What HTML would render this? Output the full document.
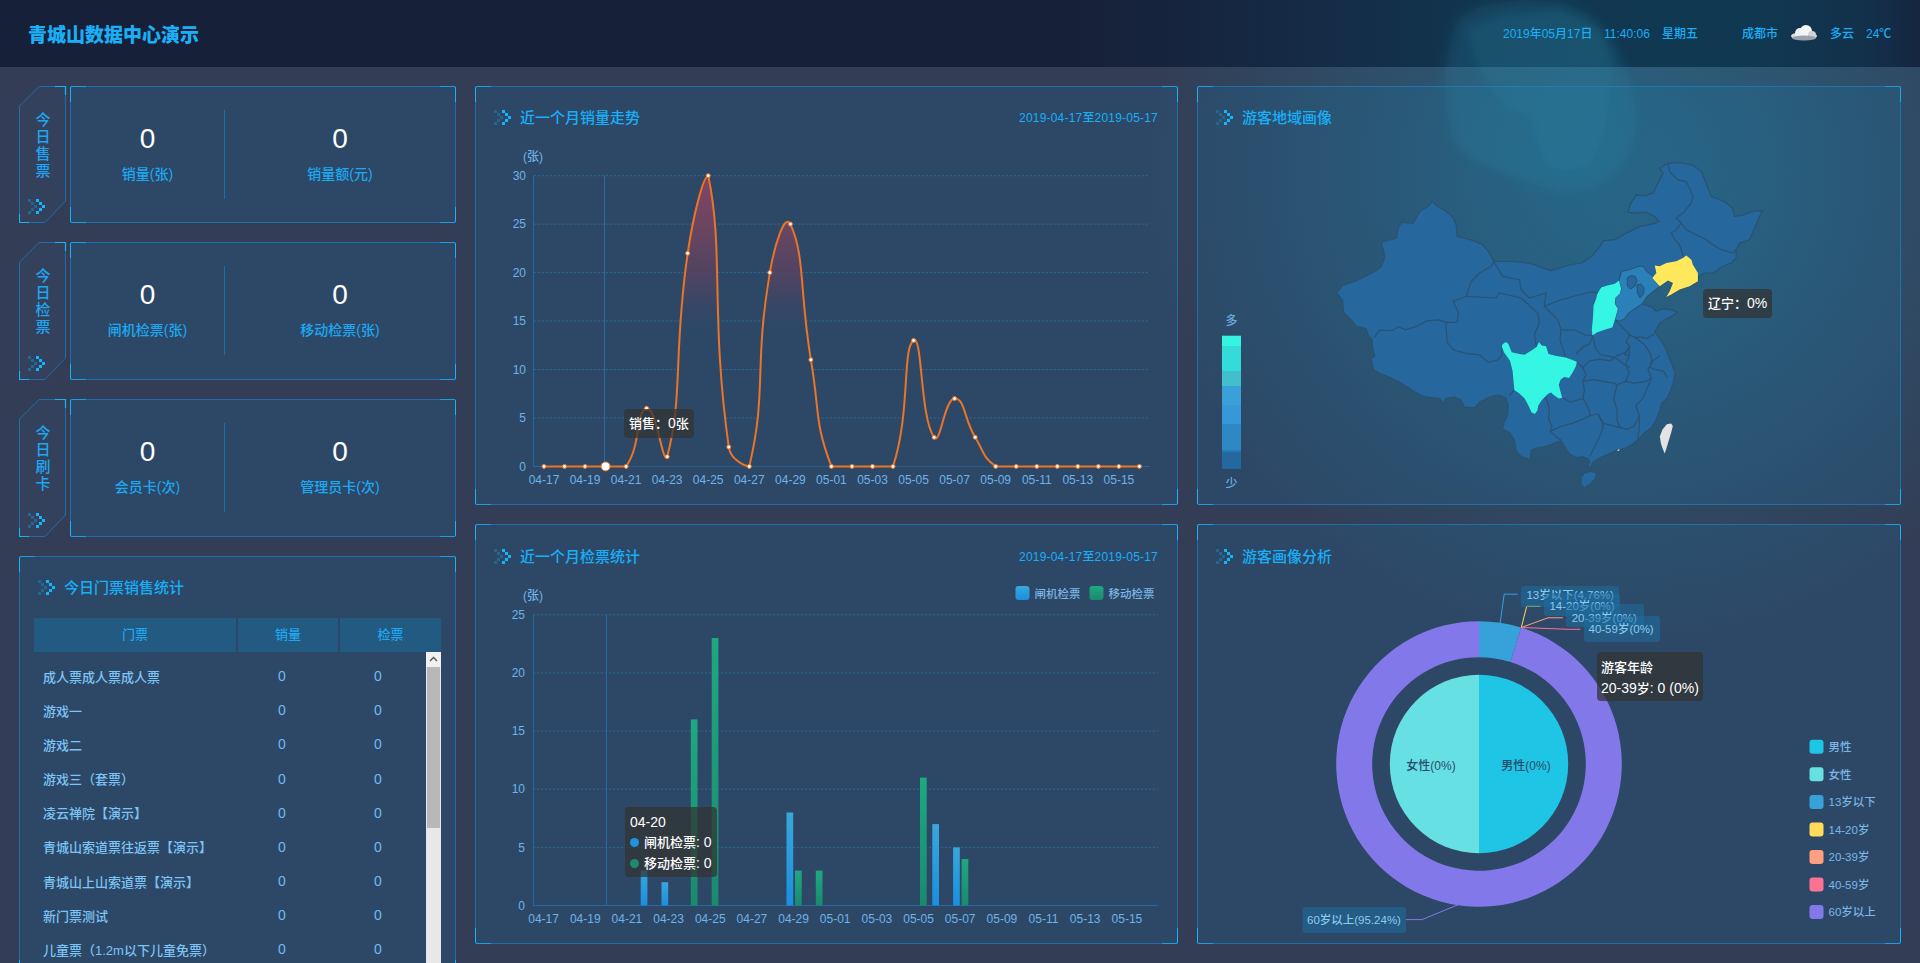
<!DOCTYPE html><html><head><meta charset="utf-8"><title>青城山数据中心演示</title><style>
*{margin:0;padding:0;box-sizing:border-box}
html,body{width:1920px;height:963px;overflow:hidden}
body{background:#333d55;font-family:"Liberation Sans", "Noto Sans CJK SC", sans-serif;position:relative;color:#1ea5ef;font-weight:500}
svg text{font-weight:500}
.abs{position:absolute}
.glow{position:absolute;pointer-events:none}
.hdr{position:absolute;left:0;top:0;width:1920px;height:67px;background:#171f38}
.title{position:absolute;left:28px;top:20px;font-size:19px;font-weight:900;color:#1ab0f8;letter-spacing:0px;white-space:nowrap}
.hinfo{position:absolute;top:27px;font-size:12px;line-height:14px;color:#1aaef6;white-space:nowrap}
.panel{position:absolute;background:rgba(41,84,124,0.55);border:1px solid #1f6eaa;border-radius:2px}
.corner{position:absolute;width:16px;height:16px;border-color:#1a9fe6 #19b2f7 #1a9fe6 #19b2f7;border-style:solid;border-width:0}
.c-tl{left:-1px;top:-1px;border-left-width:1px;border-top-width:1px;border-top-left-radius:2px}
.c-tr{right:-1px;top:-1px;border-right-width:1px;border-top-width:1px;border-top-right-radius:2px}
.c-bl{left:-1px;bottom:-1px;border-left-width:1px;border-bottom-width:1px;border-bottom-left-radius:2px}
.c-br{right:-1px;bottom:-1px;border-right-width:1px;border-bottom-width:1px;border-bottom-right-radius:2px}
.ptitle{position:absolute;font-size:15px;color:#17aff8;white-space:nowrap;line-height:15px}
.num{position:absolute;font-size:28px;color:#fff;line-height:28px;text-align:center;font-family:"Liberation Sans",sans-serif}
.lbl{position:absolute;font-size:14px;color:#1ca8f3;line-height:14px;text-align:center;white-space:nowrap}
.vdiv{position:absolute;width:1px;background:#1f6ea8}
.tag{position:absolute;left:19px;width:47px}
.tagtxt{position:absolute;left:16px;width:16px;font-size:15px;line-height:17px;color:#1fa6f0;text-align:center}
.th{position:absolute;top:618px;height:34px;background:#235a81;font-size:13px;color:#1ea6ef;text-align:center;line-height:34px}
.td{position:absolute;font-size:13px;color:#7cc4f5;white-space:nowrap;line-height:14px}
.tn{position:absolute;font-size:14px;color:#6ebcf3;line-height:14px;font-family:"Liberation Sans",sans-serif}
svg text{font-family:"Liberation Sans", "Noto Sans CJK SC", sans-serif}
.cj{font-size:13px}
.tip{position:absolute;background:rgba(50,50,50,0.72);border-radius:4px;color:#fff;font-size:14px;white-space:nowrap}
</style></head><body><div class="hdr" style="background:linear-gradient(90deg,#172039 0px,#172039 1080px,#152a45 1300px,#12334d 1440px,#113851 1650px,#113851 1760px,#13304a 1870px,#162540 1920px)"></div><svg class="abs" style="left:19px;top:86px" width="48" height="137" viewBox="0 0 48 137"><path d="M0.5,20 L20,0.5 L46.5,0.5 L46.5,115 L26,136.5 L0.5,136.5 Z" fill="#33415c" stroke="#1f6eaa" stroke-width="1"/><path d="M36,0.5 L46.5,0.5 L46.5,9" fill="none" stroke="#19b2f7" stroke-width="1.2"/><path d="M0.5,128 L0.5,136.5 L10,136.5" fill="none" stroke="#19b2f7" stroke-width="1.2"/><rect x="9" y="113" width="3" height="3" fill="#236790"/><rect x="12" y="116" width="3" height="3" fill="#236790"/><rect x="15" y="119" width="3" height="3" fill="#236790"/><rect x="12" y="122" width="3" height="3" fill="#236790"/><rect x="9" y="125" width="3" height="3" fill="#236790"/><rect x="17" y="113" width="3" height="3" fill="#17b4f8"/><rect x="20" y="116" width="3" height="3" fill="#17b4f8"/><rect x="23" y="119" width="3" height="3" fill="#17b4f8"/><rect x="20" y="122" width="3" height="3" fill="#17b4f8"/><rect x="17" y="125" width="3" height="3" fill="#17b4f8"/></svg><div class="tagtxt" style="left:35px;top:110.5px">今<br>日<br>售<br>票</div><div class="panel" style="left:70px;top:86px;width:386px;height:137px;background:#2d4866"><div class="corner c-tl"></div><div class="corner c-tr"></div><div class="corner c-bl"></div><div class="corner c-br"></div></div><div class="vdiv" style="left:224px;top:110px;height:89px"></div><div class="num" style="left:87.5px;width:120px;top:125px">0</div><div class="lbl" style="left:67.5px;width:160px;top:167px">销量(张)</div><div class="num" style="left:280px;width:120px;top:125px">0</div><div class="lbl" style="left:260px;width:160px;top:167px">销量额(元)</div><svg class="abs" style="left:19px;top:242px" width="48" height="138" viewBox="0 0 48 138"><path d="M0.5,20 L20,0.5 L46.5,0.5 L46.5,116 L26,137.5 L0.5,137.5 Z" fill="#33415c" stroke="#1f6eaa" stroke-width="1"/><path d="M36,0.5 L46.5,0.5 L46.5,9" fill="none" stroke="#19b2f7" stroke-width="1.2"/><path d="M0.5,129 L0.5,137.5 L10,137.5" fill="none" stroke="#19b2f7" stroke-width="1.2"/><rect x="9" y="114" width="3" height="3" fill="#236790"/><rect x="12" y="117" width="3" height="3" fill="#236790"/><rect x="15" y="120" width="3" height="3" fill="#236790"/><rect x="12" y="123" width="3" height="3" fill="#236790"/><rect x="9" y="126" width="3" height="3" fill="#236790"/><rect x="17" y="114" width="3" height="3" fill="#17b4f8"/><rect x="20" y="117" width="3" height="3" fill="#17b4f8"/><rect x="23" y="120" width="3" height="3" fill="#17b4f8"/><rect x="20" y="123" width="3" height="3" fill="#17b4f8"/><rect x="17" y="126" width="3" height="3" fill="#17b4f8"/></svg><div class="tagtxt" style="left:35px;top:266.5px">今<br>日<br>检<br>票</div><div class="panel" style="left:70px;top:242px;width:386px;height:138px;background:#2d4866"><div class="corner c-tl"></div><div class="corner c-tr"></div><div class="corner c-bl"></div><div class="corner c-br"></div></div><div class="vdiv" style="left:224px;top:266px;height:89px"></div><div class="num" style="left:87.5px;width:120px;top:281px">0</div><div class="lbl" style="left:67.5px;width:160px;top:323px">闸机检票(张)</div><div class="num" style="left:280px;width:120px;top:281px">0</div><div class="lbl" style="left:260px;width:160px;top:323px">移动检票(张)</div><svg class="abs" style="left:19px;top:399px" width="48" height="138" viewBox="0 0 48 138"><path d="M0.5,20 L20,0.5 L46.5,0.5 L46.5,116 L26,137.5 L0.5,137.5 Z" fill="#33415c" stroke="#1f6eaa" stroke-width="1"/><path d="M36,0.5 L46.5,0.5 L46.5,9" fill="none" stroke="#19b2f7" stroke-width="1.2"/><path d="M0.5,129 L0.5,137.5 L10,137.5" fill="none" stroke="#19b2f7" stroke-width="1.2"/><rect x="9" y="114" width="3" height="3" fill="#236790"/><rect x="12" y="117" width="3" height="3" fill="#236790"/><rect x="15" y="120" width="3" height="3" fill="#236790"/><rect x="12" y="123" width="3" height="3" fill="#236790"/><rect x="9" y="126" width="3" height="3" fill="#236790"/><rect x="17" y="114" width="3" height="3" fill="#17b4f8"/><rect x="20" y="117" width="3" height="3" fill="#17b4f8"/><rect x="23" y="120" width="3" height="3" fill="#17b4f8"/><rect x="20" y="123" width="3" height="3" fill="#17b4f8"/><rect x="17" y="126" width="3" height="3" fill="#17b4f8"/></svg><div class="tagtxt" style="left:35px;top:423.5px">今<br>日<br>刷<br>卡</div><div class="panel" style="left:70px;top:399px;width:386px;height:138px;background:#2d4866"><div class="corner c-tl"></div><div class="corner c-tr"></div><div class="corner c-bl"></div><div class="corner c-br"></div></div><div class="vdiv" style="left:224px;top:423px;height:89px"></div><div class="num" style="left:87.5px;width:120px;top:438px">0</div><div class="lbl" style="left:67.5px;width:160px;top:480px">会员卡(次)</div><div class="num" style="left:280px;width:120px;top:438px">0</div><div class="lbl" style="left:260px;width:160px;top:480px">管理员卡(次)</div><div class="panel" style="left:19px;top:556px;width:437px;height:420px;background:#2d4866"><div class="corner c-tl"></div><div class="corner c-tr"></div><div class="corner c-bl"></div><div class="corner c-br"></div></div><svg class="abs" style="left:38px;top:580px" width="20" height="16"><rect x="0" y="0" width="3" height="3" fill="#236790"/><rect x="3" y="3" width="3" height="3" fill="#236790"/><rect x="6" y="6" width="3" height="3" fill="#236790"/><rect x="3" y="9" width="3" height="3" fill="#236790"/><rect x="0" y="12" width="3" height="3" fill="#236790"/><rect x="8" y="0" width="3" height="3" fill="#17b4f8"/><rect x="11" y="3" width="3" height="3" fill="#17b4f8"/><rect x="14" y="6" width="3" height="3" fill="#17b4f8"/><rect x="11" y="9" width="3" height="3" fill="#17b4f8"/><rect x="8" y="12" width="3" height="3" fill="#17b4f8"/></svg><div class="ptitle" style="left:64px;top:580px">今日门票销售统计</div><div class="th" style="left:34px;width:202px">门票</div><div class="th" style="left:238px;width:100px">销量</div><div class="th" style="left:340px;width:101px">检票</div><div class="td" style="left:43px;top:670.6px">成人票成人票成人票</div><div class="tn" style="left:278px;top:669.1px">0</div><div class="tn" style="left:374px;top:669.1px">0</div><div class="td" style="left:43px;top:704.8px">游戏一</div><div class="tn" style="left:278px;top:703.2px">0</div><div class="tn" style="left:374px;top:703.2px">0</div><div class="td" style="left:43px;top:738.9px">游戏二</div><div class="tn" style="left:278px;top:737.4px">0</div><div class="tn" style="left:374px;top:737.4px">0</div><div class="td" style="left:43px;top:773.0px">游戏三（套票）</div><div class="tn" style="left:278px;top:771.5px">0</div><div class="tn" style="left:374px;top:771.5px">0</div><div class="td" style="left:43px;top:807.2px">凌云禅院【演示】</div><div class="tn" style="left:278px;top:805.7px">0</div><div class="tn" style="left:374px;top:805.7px">0</div><div class="td" style="left:43px;top:841.4px">青城山索道票往返票【演示】</div><div class="tn" style="left:278px;top:839.9px">0</div><div class="tn" style="left:374px;top:839.9px">0</div><div class="td" style="left:43px;top:875.5px">青城山上山索道票【演示】</div><div class="tn" style="left:278px;top:874.0px">0</div><div class="tn" style="left:374px;top:874.0px">0</div><div class="td" style="left:43px;top:909.6px">新门票测试</div><div class="tn" style="left:278px;top:908.1px">0</div><div class="tn" style="left:374px;top:908.1px">0</div><div class="td" style="left:43px;top:943.8px">儿童票（1.2m以下儿童免票）</div><div class="tn" style="left:278px;top:942.3px">0</div><div class="tn" style="left:374px;top:942.3px">0</div><div class="abs" style="left:426px;top:652px;width:15px;height:320px;background:#e8e8e8"></div><div class="abs" style="left:426px;top:652px;width:15px;height:15px;background:#f1f1f1"></div><svg class="abs" style="left:426px;top:652px" width="15" height="15"><path d="M4,9 L7.5,5.5 L11,9" fill="none" stroke="#505050" stroke-width="1.3"/></svg><div class="abs" style="left:427px;top:667px;width:13px;height:161px;background:#b8b8b8"></div><div class="panel" style="left:475px;top:86px;width:703px;height:419px;background:#2d4866"><div class="corner c-tl"></div><div class="corner c-tr"></div><div class="corner c-bl"></div><div class="corner c-br"></div></div><div class="panel" style="left:475px;top:524px;width:703px;height:420px;background:#2d4866"><div class="corner c-tl"></div><div class="corner c-tr"></div><div class="corner c-bl"></div><div class="corner c-br"></div></div><div class="panel" style="left:1197px;top:86px;width:704px;height:419px;background:#2d4866"><div class="corner c-tl"></div><div class="corner c-tr"></div><div class="corner c-bl"></div><div class="corner c-br"></div></div><div class="panel" style="left:1197px;top:524px;width:704px;height:420px;background:#2d4866"><div class="corner c-tl"></div><div class="corner c-tr"></div><div class="corner c-bl"></div><div class="corner c-br"></div></div><div class="glow" style="left:1150px;top:-300px;width:940px;height:940px;border-radius:50%;background:radial-gradient(closest-side, rgba(32,135,172,0.45), rgba(32,135,172,0.43) 18%, rgba(32,135,172,0.33) 37%, rgba(32,135,172,0.19) 64%, rgba(32,135,172,0.10) 80%, rgba(32,135,172,0.05) 92%, rgba(32,135,172,0) 100%)"></div><div class="abs" style="left:0;top:0;width:1920px;height:67px;background:linear-gradient(90deg,#172039 0px,#172039 1080px,#152a45 1300px,#12334d 1440px,#113851 1650px,#113851 1760px,#13304a 1870px,#162540 1920px)"></div><svg class="abs" style="left:0;top:0;pointer-events:none" width="1920" height="300" viewBox="0 0 1920 300"><defs><filter id="bl" x="-20%" y="-20%" width="140%" height="140%"><feGaussianBlur stdDeviation="4"/></filter><filter id="bl2" x="-20%" y="-20%" width="140%" height="140%"><feGaussianBlur stdDeviation="6"/></filter></defs><path filter="url(#bl2)" fill="rgb(40,135,170)" fill-opacity="0.22" d="M1457,20 L1480,6 L1520,0 L1560,2 L1590,15 L1612,40 L1630,80 L1637,120 L1632,150 L1615,175 L1590,190 L1560,193 L1530,182 L1500,172 L1470,160 L1452,140 L1445,100 L1446,60 Z"/><path filter="url(#bl)" fill="rgb(40,135,170)" fill-opacity="0.16" d="M1468,30 L1500,16 L1560,10 L1600,28 L1612,60 L1610,100 L1602,140 L1590,165 L1565,172 L1545,165 L1537,140 L1530,116 L1505,108 L1490,90 L1475,60 Z"/></svg><div class="title">青城山数据中心演示</div><div class="hinfo" style="left:1503px">2019年05月17日</div><div class="hinfo" style="left:1604px">11:40:06</div><div class="hinfo" style="left:1662px">星期五</div><div class="hinfo" style="left:1742px">成都市</div><div class="hinfo" style="left:1830px">多云</div><div class="hinfo" style="left:1866px">24℃</div><svg class="abs" style="left:1789px;top:24px" width="30" height="18" viewBox="0 0 30 18"><ellipse cx="15" cy="12" rx="13" ry="4" fill="#d9dde2"/><circle cx="11" cy="9" r="5" fill="#eef0f2"/><circle cx="17" cy="7" r="6" fill="#f4f5f6"/><circle cx="23" cy="11" r="4" fill="#d0d4d8"/><ellipse cx="15" cy="14" rx="12" ry="2.5" fill="#9aa3ad"/></svg><svg class="abs" style="left:0;top:0" width="1920" height="963" viewBox="0 0 1920 963"><rect x="494" y="110" width="3" height="3" fill="#236790"/><rect x="497" y="113" width="3" height="3" fill="#236790"/><rect x="500" y="116" width="3" height="3" fill="#236790"/><rect x="497" y="119" width="3" height="3" fill="#236790"/><rect x="494" y="122" width="3" height="3" fill="#236790"/><rect x="502" y="110" width="3" height="3" fill="#17b4f8"/><rect x="505" y="113" width="3" height="3" fill="#17b4f8"/><rect x="508" y="116" width="3" height="3" fill="#17b4f8"/><rect x="505" y="119" width="3" height="3" fill="#17b4f8"/><rect x="502" y="122" width="3" height="3" fill="#17b4f8"/><text x="520.0" y="123.0" font-size="15" fill="#17aff8" text-anchor="start" >近一个月销量走势</text><rect x="494" y="549" width="3" height="3" fill="#236790"/><rect x="497" y="552" width="3" height="3" fill="#236790"/><rect x="500" y="555" width="3" height="3" fill="#236790"/><rect x="497" y="558" width="3" height="3" fill="#236790"/><rect x="494" y="561" width="3" height="3" fill="#236790"/><rect x="502" y="549" width="3" height="3" fill="#17b4f8"/><rect x="505" y="552" width="3" height="3" fill="#17b4f8"/><rect x="508" y="555" width="3" height="3" fill="#17b4f8"/><rect x="505" y="558" width="3" height="3" fill="#17b4f8"/><rect x="502" y="561" width="3" height="3" fill="#17b4f8"/><text x="520.0" y="562.0" font-size="15" fill="#17aff8" text-anchor="start" >近一个月检票统计</text><rect x="1216" y="110" width="3" height="3" fill="#236790"/><rect x="1219" y="113" width="3" height="3" fill="#236790"/><rect x="1222" y="116" width="3" height="3" fill="#236790"/><rect x="1219" y="119" width="3" height="3" fill="#236790"/><rect x="1216" y="122" width="3" height="3" fill="#236790"/><rect x="1224" y="110" width="3" height="3" fill="#17b4f8"/><rect x="1227" y="113" width="3" height="3" fill="#17b4f8"/><rect x="1230" y="116" width="3" height="3" fill="#17b4f8"/><rect x="1227" y="119" width="3" height="3" fill="#17b4f8"/><rect x="1224" y="122" width="3" height="3" fill="#17b4f8"/><text x="1242.0" y="123.0" font-size="15" fill="#17aff8" text-anchor="start" >游客地域画像</text><rect x="1216" y="549" width="3" height="3" fill="#236790"/><rect x="1219" y="552" width="3" height="3" fill="#236790"/><rect x="1222" y="555" width="3" height="3" fill="#236790"/><rect x="1219" y="558" width="3" height="3" fill="#236790"/><rect x="1216" y="561" width="3" height="3" fill="#236790"/><rect x="1224" y="549" width="3" height="3" fill="#17b4f8"/><rect x="1227" y="552" width="3" height="3" fill="#17b4f8"/><rect x="1230" y="555" width="3" height="3" fill="#17b4f8"/><rect x="1227" y="558" width="3" height="3" fill="#17b4f8"/><rect x="1224" y="561" width="3" height="3" fill="#17b4f8"/><text x="1242.0" y="562.0" font-size="15" fill="#17aff8" text-anchor="start" >游客画像分析</text><text x="1158.0" y="121.5" font-size="12" fill="#17aff8" text-anchor="end" letter-spacing="0.2">2019-04-17至2019-05-17</text><text x="1158.0" y="560.5" font-size="12" fill="#17aff8" text-anchor="end" letter-spacing="0.2">2019-04-17至2019-05-17</text><line x1="533.7" y1="417.9" x2="1149.7" y2="417.9" stroke="#2c6b9e" stroke-width="1" stroke-dasharray="2,2"/><line x1="533.7" y1="369.5" x2="1149.7" y2="369.5" stroke="#2c6b9e" stroke-width="1" stroke-dasharray="2,2"/><line x1="533.7" y1="321.0" x2="1149.7" y2="321.0" stroke="#2c6b9e" stroke-width="1" stroke-dasharray="2,2"/><line x1="533.7" y1="272.6" x2="1149.7" y2="272.6" stroke="#2c6b9e" stroke-width="1" stroke-dasharray="2,2"/><line x1="533.7" y1="224.1" x2="1149.7" y2="224.1" stroke="#2c6b9e" stroke-width="1" stroke-dasharray="2,2"/><line x1="533.7" y1="175.7" x2="1149.7" y2="175.7" stroke="#2c6b9e" stroke-width="1" stroke-dasharray="2,2"/><line x1="533.5" y1="175.7" x2="533.5" y2="466.5" stroke="#216aa6" stroke-width="1"/><line x1="533" y1="466.5" x2="1149.7" y2="466.5" stroke="#216aa6" stroke-width="1"/><text x="526.0" y="470.6" font-size="12" fill="#6db3e8" text-anchor="end" >0</text><text x="526.0" y="422.1" font-size="12" fill="#6db3e8" text-anchor="end" >5</text><text x="526.0" y="373.7" font-size="12" fill="#6db3e8" text-anchor="end" >10</text><text x="526.0" y="325.2" font-size="12" fill="#6db3e8" text-anchor="end" >15</text><text x="526.0" y="276.8" font-size="12" fill="#6db3e8" text-anchor="end" >20</text><text x="526.0" y="228.3" font-size="12" fill="#6db3e8" text-anchor="end" >25</text><text x="526.0" y="179.9" font-size="12" fill="#6db3e8" text-anchor="end" >30</text><text x="533.0" y="161.0" font-size="12" fill="#6db3e8" text-anchor="middle" >(张)</text><text x="544.0" y="484.0" font-size="12" fill="#6db3e8" text-anchor="middle" >04-17</text><text x="585.0" y="484.0" font-size="12" fill="#6db3e8" text-anchor="middle" >04-19</text><text x="626.1" y="484.0" font-size="12" fill="#6db3e8" text-anchor="middle" >04-21</text><text x="667.2" y="484.0" font-size="12" fill="#6db3e8" text-anchor="middle" >04-23</text><text x="708.2" y="484.0" font-size="12" fill="#6db3e8" text-anchor="middle" >04-25</text><text x="749.3" y="484.0" font-size="12" fill="#6db3e8" text-anchor="middle" >04-27</text><text x="790.4" y="484.0" font-size="12" fill="#6db3e8" text-anchor="middle" >04-29</text><text x="831.4" y="484.0" font-size="12" fill="#6db3e8" text-anchor="middle" >05-01</text><text x="872.5" y="484.0" font-size="12" fill="#6db3e8" text-anchor="middle" >05-03</text><text x="913.6" y="484.0" font-size="12" fill="#6db3e8" text-anchor="middle" >05-05</text><text x="954.6" y="484.0" font-size="12" fill="#6db3e8" text-anchor="middle" >05-07</text><text x="995.7" y="484.0" font-size="12" fill="#6db3e8" text-anchor="middle" >05-09</text><text x="1036.8" y="484.0" font-size="12" fill="#6db3e8" text-anchor="middle" >05-11</text><text x="1077.8" y="484.0" font-size="12" fill="#6db3e8" text-anchor="middle" >05-13</text><text x="1118.9" y="484.0" font-size="12" fill="#6db3e8" text-anchor="middle" >05-15</text><line x1="604.5" y1="175.7" x2="604.5" y2="466" stroke="#2a6aa0" stroke-width="1"/><defs><linearGradient id="ag" x1="0" y1="175" x2="0" y2="466" gradientUnits="userSpaceOnUse"><stop offset="0" stop-color="#824562"/><stop offset="0.17" stop-color="#6c4561"/><stop offset="0.33" stop-color="#514461"/><stop offset="0.45" stop-color="#374665"/><stop offset="0.52" stop-color="#2d4866"/><stop offset="1" stop-color="#2d4866"/></linearGradient><linearGradient id="gb" x1="0" y1="0" x2="0" y2="1"><stop offset="0" stop-color="#3aa6dc"/><stop offset="1" stop-color="#1a8fe0"/></linearGradient><linearGradient id="gg" x1="0" y1="0" x2="0" y2="1"><stop offset="0" stop-color="#1fa882"/><stop offset="1" stop-color="#1a8a6e"/></linearGradient></defs><path d="M543.97,466.40 C543.97,466.40 554.23,466.40 564.50,466.40 C574.77,466.40 574.77,466.40 585.03,466.40 C595.30,466.40 595.30,466.40 605.57,466.40 C615.83,466.40 620.97,466.40 626.10,466.40 C641.50,444.59 635.55,410.87 646.63,408.26 C656.09,406.03 662.96,466.40 667.17,456.71 C683.50,395.05 672.95,354.15 687.70,253.22 C693.48,213.65 703.56,175.70 708.23,175.70 C724.09,250.54 710.16,315.33 728.77,447.02 C730.70,460.68 746.70,466.40 749.30,466.40 C767.23,390.23 753.67,367.97 769.83,272.60 C774.20,246.85 784.67,212.06 790.37,224.15 C805.21,255.67 799.44,292.19 810.90,359.81 C819.97,413.31 814.17,421.58 831.43,466.40 C834.70,466.40 841.70,466.40 851.97,466.40 C862.23,466.40 862.23,466.40 872.50,466.40 C882.77,466.40 890.19,466.40 893.03,466.40 C910.72,412.14 902.01,348.61 913.57,340.43 C922.54,334.08 919.87,417.18 934.10,437.33 C940.40,446.25 944.37,398.57 954.63,398.57 C964.90,398.57 963.83,418.61 975.17,437.33 C984.36,452.52 982.68,457.18 995.70,466.40 C1003.21,466.40 1005.97,466.40 1016.23,466.40 C1026.50,466.40 1026.50,466.40 1036.77,466.40 C1047.03,466.40 1047.03,466.40 1057.30,466.40 C1067.57,466.40 1067.57,466.40 1077.83,466.40 C1088.10,466.40 1088.10,466.40 1098.37,466.40 C1108.63,466.40 1108.63,466.40 1118.90,466.40 C1129.17,466.40 1139.43,466.40 1139.43,466.40 L1139.4,466.4 L544.0,466.4 Z" fill="url(#ag)"/><path d="M543.97,466.40 C543.97,466.40 554.23,466.40 564.50,466.40 C574.77,466.40 574.77,466.40 585.03,466.40 C595.30,466.40 595.30,466.40 605.57,466.40 C615.83,466.40 620.97,466.40 626.10,466.40 C641.50,444.59 635.55,410.87 646.63,408.26 C656.09,406.03 662.96,466.40 667.17,456.71 C683.50,395.05 672.95,354.15 687.70,253.22 C693.48,213.65 703.56,175.70 708.23,175.70 C724.09,250.54 710.16,315.33 728.77,447.02 C730.70,460.68 746.70,466.40 749.30,466.40 C767.23,390.23 753.67,367.97 769.83,272.60 C774.20,246.85 784.67,212.06 790.37,224.15 C805.21,255.67 799.44,292.19 810.90,359.81 C819.97,413.31 814.17,421.58 831.43,466.40 C834.70,466.40 841.70,466.40 851.97,466.40 C862.23,466.40 862.23,466.40 872.50,466.40 C882.77,466.40 890.19,466.40 893.03,466.40 C910.72,412.14 902.01,348.61 913.57,340.43 C922.54,334.08 919.87,417.18 934.10,437.33 C940.40,446.25 944.37,398.57 954.63,398.57 C964.90,398.57 963.83,418.61 975.17,437.33 C984.36,452.52 982.68,457.18 995.70,466.40 C1003.21,466.40 1005.97,466.40 1016.23,466.40 C1026.50,466.40 1026.50,466.40 1036.77,466.40 C1047.03,466.40 1047.03,466.40 1057.30,466.40 C1067.57,466.40 1067.57,466.40 1077.83,466.40 C1088.10,466.40 1088.10,466.40 1098.37,466.40 C1108.63,466.40 1108.63,466.40 1118.90,466.40 C1129.17,466.40 1139.43,466.40 1139.43,466.40" fill="none" stroke="#ea7427" stroke-width="2"/><circle cx="544.0" cy="466.4" r="2" fill="#fff" stroke="#ea7427" stroke-width="1"/><circle cx="564.5" cy="466.4" r="2" fill="#fff" stroke="#ea7427" stroke-width="1"/><circle cx="585.0" cy="466.4" r="2" fill="#fff" stroke="#ea7427" stroke-width="1"/><circle cx="605.6" cy="466.4" r="4.5" fill="#fff" stroke="#ea7427" stroke-width="1"/><circle cx="626.1" cy="466.4" r="2" fill="#fff" stroke="#ea7427" stroke-width="1"/><circle cx="646.6" cy="408.3" r="2" fill="#fff" stroke="#ea7427" stroke-width="1"/><circle cx="667.2" cy="456.7" r="2" fill="#fff" stroke="#ea7427" stroke-width="1"/><circle cx="687.7" cy="253.2" r="2" fill="#fff" stroke="#ea7427" stroke-width="1"/><circle cx="708.2" cy="175.7" r="2" fill="#fff" stroke="#ea7427" stroke-width="1"/><circle cx="728.8" cy="447.0" r="2" fill="#fff" stroke="#ea7427" stroke-width="1"/><circle cx="749.3" cy="466.4" r="2" fill="#fff" stroke="#ea7427" stroke-width="1"/><circle cx="769.8" cy="272.6" r="2" fill="#fff" stroke="#ea7427" stroke-width="1"/><circle cx="790.4" cy="224.1" r="2" fill="#fff" stroke="#ea7427" stroke-width="1"/><circle cx="810.9" cy="359.8" r="2" fill="#fff" stroke="#ea7427" stroke-width="1"/><circle cx="831.4" cy="466.4" r="2" fill="#fff" stroke="#ea7427" stroke-width="1"/><circle cx="852.0" cy="466.4" r="2" fill="#fff" stroke="#ea7427" stroke-width="1"/><circle cx="872.5" cy="466.4" r="2" fill="#fff" stroke="#ea7427" stroke-width="1"/><circle cx="893.0" cy="466.4" r="2" fill="#fff" stroke="#ea7427" stroke-width="1"/><circle cx="913.6" cy="340.4" r="2" fill="#fff" stroke="#ea7427" stroke-width="1"/><circle cx="934.1" cy="437.3" r="2" fill="#fff" stroke="#ea7427" stroke-width="1"/><circle cx="954.6" cy="398.6" r="2" fill="#fff" stroke="#ea7427" stroke-width="1"/><circle cx="975.2" cy="437.3" r="2" fill="#fff" stroke="#ea7427" stroke-width="1"/><circle cx="995.7" cy="466.4" r="2" fill="#fff" stroke="#ea7427" stroke-width="1"/><circle cx="1016.2" cy="466.4" r="2" fill="#fff" stroke="#ea7427" stroke-width="1"/><circle cx="1036.8" cy="466.4" r="2" fill="#fff" stroke="#ea7427" stroke-width="1"/><circle cx="1057.3" cy="466.4" r="2" fill="#fff" stroke="#ea7427" stroke-width="1"/><circle cx="1077.8" cy="466.4" r="2" fill="#fff" stroke="#ea7427" stroke-width="1"/><circle cx="1098.4" cy="466.4" r="2" fill="#fff" stroke="#ea7427" stroke-width="1"/><circle cx="1118.9" cy="466.4" r="2" fill="#fff" stroke="#ea7427" stroke-width="1"/><circle cx="1139.4" cy="466.4" r="2" fill="#fff" stroke="#ea7427" stroke-width="1"/><line x1="533.2" y1="847.4" x2="1158.1" y2="847.4" stroke="#2c6b9e" stroke-width="1" stroke-dasharray="2,2"/><line x1="533.2" y1="789.2" x2="1158.1" y2="789.2" stroke="#2c6b9e" stroke-width="1" stroke-dasharray="2,2"/><line x1="533.2" y1="731.0" x2="1158.1" y2="731.0" stroke="#2c6b9e" stroke-width="1" stroke-dasharray="2,2"/><line x1="533.2" y1="672.9" x2="1158.1" y2="672.9" stroke="#2c6b9e" stroke-width="1" stroke-dasharray="2,2"/><line x1="533.2" y1="614.8" x2="1158.1" y2="614.8" stroke="#2c6b9e" stroke-width="1" stroke-dasharray="2,2"/><line x1="533.5" y1="614.8" x2="533.5" y2="905.5" stroke="#216aa6" stroke-width="1"/><line x1="533" y1="905.5" x2="1158.1" y2="905.5" stroke="#216aa6" stroke-width="1"/><text x="525.0" y="909.7" font-size="12" fill="#6db3e8" text-anchor="end" >0</text><text x="525.0" y="851.6" font-size="12" fill="#6db3e8" text-anchor="end" >5</text><text x="525.0" y="793.4" font-size="12" fill="#6db3e8" text-anchor="end" >10</text><text x="525.0" y="735.2" font-size="12" fill="#6db3e8" text-anchor="end" >15</text><text x="525.0" y="677.1" font-size="12" fill="#6db3e8" text-anchor="end" >20</text><text x="525.0" y="619.0" font-size="12" fill="#6db3e8" text-anchor="end" >25</text><text x="533.0" y="600.0" font-size="12" fill="#6db3e8" text-anchor="middle" >(张)</text><text x="543.6" y="923.0" font-size="12" fill="#6db3e8" text-anchor="middle" >04-17</text><text x="585.3" y="923.0" font-size="12" fill="#6db3e8" text-anchor="middle" >04-19</text><text x="626.9" y="923.0" font-size="12" fill="#6db3e8" text-anchor="middle" >04-21</text><text x="668.6" y="923.0" font-size="12" fill="#6db3e8" text-anchor="middle" >04-23</text><text x="710.3" y="923.0" font-size="12" fill="#6db3e8" text-anchor="middle" >04-25</text><text x="751.9" y="923.0" font-size="12" fill="#6db3e8" text-anchor="middle" >04-27</text><text x="793.6" y="923.0" font-size="12" fill="#6db3e8" text-anchor="middle" >04-29</text><text x="835.2" y="923.0" font-size="12" fill="#6db3e8" text-anchor="middle" >05-01</text><text x="876.9" y="923.0" font-size="12" fill="#6db3e8" text-anchor="middle" >05-03</text><text x="918.6" y="923.0" font-size="12" fill="#6db3e8" text-anchor="middle" >05-05</text><text x="960.2" y="923.0" font-size="12" fill="#6db3e8" text-anchor="middle" >05-07</text><text x="1001.9" y="923.0" font-size="12" fill="#6db3e8" text-anchor="middle" >05-09</text><text x="1043.5" y="923.0" font-size="12" fill="#6db3e8" text-anchor="middle" >05-11</text><text x="1085.2" y="923.0" font-size="12" fill="#6db3e8" text-anchor="middle" >05-13</text><text x="1126.9" y="923.0" font-size="12" fill="#6db3e8" text-anchor="middle" >05-15</text><line x1="606.5" y1="614.8" x2="606.5" y2="905" stroke="#2a6aa0" stroke-width="1"/><rect x="640.7" y="870.6" width="6.7" height="34.9" fill="url(#gb)"/><rect x="661.5" y="882.2" width="6.7" height="23.3" fill="url(#gb)"/><rect x="786.5" y="812.5" width="6.7" height="93.0" fill="url(#gb)"/><rect x="932.3" y="824.1" width="6.7" height="81.4" fill="url(#gb)"/><rect x="953.1" y="847.4" width="6.7" height="58.2" fill="url(#gb)"/><rect x="690.8" y="719.4" width="6.7" height="186.1" fill="url(#gg)"/><rect x="711.7" y="638.0" width="6.7" height="267.5" fill="url(#gg)"/><rect x="795.0" y="870.6" width="6.7" height="34.9" fill="url(#gg)"/><rect x="815.8" y="870.6" width="6.7" height="34.9" fill="url(#gg)"/><rect x="920.0" y="777.6" width="6.7" height="127.9" fill="url(#gg)"/><rect x="961.6" y="859.0" width="6.7" height="46.5" fill="url(#gg)"/><rect x="1015.5" y="586" width="14" height="14" rx="3" fill="url(#gb)"/><text x="1034.5" y="597.5" font-size="11.5" fill="#7ab6e6" text-anchor="start" >闸机检票</text><rect x="1089.5" y="586" width="14" height="14" rx="3" fill="url(#gg)"/><text x="1108.5" y="597.5" font-size="11.5" fill="#7ab6e6" text-anchor="start" >移动检票</text><path d="M1336.6,293.0 L1342.5,285.6 L1356.6,280.6 L1364.9,276.4 L1374.9,271.4 L1381.5,266.4 L1384.8,256.5 L1381.5,242.4 L1396.5,238.2 L1398.1,228.2 L1401.5,222.4 L1413.1,223.2 L1419.7,211.6 L1428.9,205.8 L1432.2,200.8 L1435.5,205.0 L1446.3,211.6 L1453.0,217.4 L1456.3,224.9 L1457.1,236.5 L1471.3,239.9 L1482.9,244.8 L1489.5,253.2 L1493.7,261.5 L1512.8,261.5 L1529.4,263.1 L1551.0,270.6 L1560.0,268.0 L1570.0,264.8 L1581.6,263.0 L1591.6,256.3 L1599.9,246.4 L1603.2,240.6 L1614.8,239.7 L1626.5,233.1 L1639.8,226.4 L1653.1,223.9 L1658.9,221.5 L1654.7,216.5 L1646.4,212.3 L1638.1,213.1 L1628.1,212.3 L1629.8,204.8 L1636.4,194.9 L1644.7,195.7 L1653.1,193.2 L1658.0,183.2 L1663.0,173.3 L1659.7,168.3 L1668.0,163.3 L1679.6,162.5 L1692.9,165.0 L1701.2,171.6 L1706.2,183.2 L1711.2,196.5 L1724.5,201.5 L1732.8,208.2 L1734.5,216.5 L1744.5,214.8 L1752.8,211.5 L1762.7,210.7 L1759.4,216.5 L1756.1,224.8 L1749.4,239.7 L1739.5,243.1 L1736.1,249.7 L1736.1,258.0 L1731.2,263.0 L1722.8,266.3 L1712.9,273.0 L1704.6,273.0 L1698.8,276.3 L1697.9,281.3 L1689.6,286.3 L1679.6,289.6 L1671.3,294.6 L1666.3,297.1 L1669.7,291.2 L1673.0,282.9 L1668.0,280.4 L1659.7,286.3 L1653.5,291.2 L1647.2,296.2 L1642.2,303.7 L1652.2,307.4 L1656.0,311.2 L1663.4,308.7 L1672.1,309.9 L1677.1,312.4 L1672.1,316.1 L1664.7,319.9 L1659.7,323.6 L1656.0,329.8 L1654.8,331.7 L1660.0,338.6 L1665.1,347.1 L1668.5,355.7 L1671.9,364.3 L1675.3,372.8 L1673.6,381.4 L1670.2,391.7 L1666.8,398.5 L1661.6,403.7 L1659.9,410.5 L1656.5,419.1 L1651.4,427.7 L1644.5,432.8 L1639.4,438.0 L1634.2,443.1 L1625.6,448.2 L1617.1,450.0 L1610.2,453.4 L1599.9,457.7 L1593.1,461.9 L1590.5,467.9 L1588.0,465.4 L1589.7,461.9 L1588.0,458.5 L1582.8,456.8 L1576.0,457.7 L1569.1,453.4 L1565.7,448.2 L1562.2,443.1 L1558.8,441.4 L1552.0,444.0 L1545.1,446.5 L1536.5,448.2 L1531.4,450.0 L1529.7,460.2 L1526.3,457.7 L1521.1,456.8 L1516.0,450.0 L1514.3,439.7 L1510.0,432.8 L1502.3,429.4 L1504.0,422.5 L1507.4,415.7 L1508.3,405.4 L1505.7,397.7 L1498.8,395.1 L1490.7,396.6 L1479.5,402.2 L1474.5,407.8 L1464.6,407.2 L1460.8,399.7 L1454.6,397.2 L1445.9,398.4 L1443.4,403.4 L1439.7,398.4 L1427.2,397.2 L1417.2,393.5 L1409.8,388.5 L1399.8,382.2 L1389.8,377.3 L1379.8,373.5 L1373.6,369.8 L1371.1,358.6 L1374.9,356.1 L1372.4,346.1 L1372.4,339.9 L1368.6,336.1 L1366.1,328.7 L1356.2,326.2 L1352.4,321.2 L1343.7,312.5 L1342.5,300.0 Z" fill="#26679d" stroke="#2a5272" stroke-width="1.2" stroke-linejoin="round"/><path d="M1581.1,477.4 L1584.5,473.1 L1591.4,471.4 L1596.5,473.1 L1594.8,479.1 L1589.7,484.2 L1584.5,487.6 L1581.1,484.2 Z" fill="#26679d" stroke="#2a5272" stroke-width="1"/><clipPath id="cc"><path d="M1336.6,293.0 L1342.5,285.6 L1356.6,280.6 L1364.9,276.4 L1374.9,271.4 L1381.5,266.4 L1384.8,256.5 L1381.5,242.4 L1396.5,238.2 L1398.1,228.2 L1401.5,222.4 L1413.1,223.2 L1419.7,211.6 L1428.9,205.8 L1432.2,200.8 L1435.5,205.0 L1446.3,211.6 L1453.0,217.4 L1456.3,224.9 L1457.1,236.5 L1471.3,239.9 L1482.9,244.8 L1489.5,253.2 L1493.7,261.5 L1512.8,261.5 L1529.4,263.1 L1551.0,270.6 L1560.0,268.0 L1570.0,264.8 L1581.6,263.0 L1591.6,256.3 L1599.9,246.4 L1603.2,240.6 L1614.8,239.7 L1626.5,233.1 L1639.8,226.4 L1653.1,223.9 L1658.9,221.5 L1654.7,216.5 L1646.4,212.3 L1638.1,213.1 L1628.1,212.3 L1629.8,204.8 L1636.4,194.9 L1644.7,195.7 L1653.1,193.2 L1658.0,183.2 L1663.0,173.3 L1659.7,168.3 L1668.0,163.3 L1679.6,162.5 L1692.9,165.0 L1701.2,171.6 L1706.2,183.2 L1711.2,196.5 L1724.5,201.5 L1732.8,208.2 L1734.5,216.5 L1744.5,214.8 L1752.8,211.5 L1762.7,210.7 L1759.4,216.5 L1756.1,224.8 L1749.4,239.7 L1739.5,243.1 L1736.1,249.7 L1736.1,258.0 L1731.2,263.0 L1722.8,266.3 L1712.9,273.0 L1704.6,273.0 L1698.8,276.3 L1697.9,281.3 L1689.6,286.3 L1679.6,289.6 L1671.3,294.6 L1666.3,297.1 L1669.7,291.2 L1673.0,282.9 L1668.0,280.4 L1659.7,286.3 L1653.5,291.2 L1647.2,296.2 L1642.2,303.7 L1652.2,307.4 L1656.0,311.2 L1663.4,308.7 L1672.1,309.9 L1677.1,312.4 L1672.1,316.1 L1664.7,319.9 L1659.7,323.6 L1656.0,329.8 L1654.8,331.7 L1660.0,338.6 L1665.1,347.1 L1668.5,355.7 L1671.9,364.3 L1675.3,372.8 L1673.6,381.4 L1670.2,391.7 L1666.8,398.5 L1661.6,403.7 L1659.9,410.5 L1656.5,419.1 L1651.4,427.7 L1644.5,432.8 L1639.4,438.0 L1634.2,443.1 L1625.6,448.2 L1617.1,450.0 L1610.2,453.4 L1599.9,457.7 L1593.1,461.9 L1590.5,467.9 L1588.0,465.4 L1589.7,461.9 L1588.0,458.5 L1582.8,456.8 L1576.0,457.7 L1569.1,453.4 L1565.7,448.2 L1562.2,443.1 L1558.8,441.4 L1552.0,444.0 L1545.1,446.5 L1536.5,448.2 L1531.4,450.0 L1529.7,460.2 L1526.3,457.7 L1521.1,456.8 L1516.0,450.0 L1514.3,439.7 L1510.0,432.8 L1502.3,429.4 L1504.0,422.5 L1507.4,415.7 L1508.3,405.4 L1505.7,397.7 L1498.8,395.1 L1490.7,396.6 L1479.5,402.2 L1474.5,407.8 L1464.6,407.2 L1460.8,399.7 L1454.6,397.2 L1445.9,398.4 L1443.4,403.4 L1439.7,398.4 L1427.2,397.2 L1417.2,393.5 L1409.8,388.5 L1399.8,382.2 L1389.8,377.3 L1379.8,373.5 L1373.6,369.8 L1371.1,358.6 L1374.9,356.1 L1372.4,346.1 L1372.4,339.9 L1368.6,336.1 L1366.1,328.7 L1356.2,326.2 L1352.4,321.2 L1343.7,312.5 L1342.5,300.0 Z"/></clipPath><g clip-path="url(#cc)"><path d="M1374.0,337.9 L1379.8,329.9 L1392.3,330.5 L1398.5,326.8 L1404.8,329.9 L1417.2,326.2 L1426.0,321.2 L1438.4,319.9 L1445.9,322.4 L1457.1,322.4" fill="none" stroke="#2a5272" stroke-width="1.2"/><path d="M1457.1,322.4 L1458.4,312.5 L1453.0,301.3 L1466.3,296.4 L1471.3,281.4 L1479.6,273.1 L1491.2,266.4 L1493.7,261.5" fill="none" stroke="#2a5272" stroke-width="1.2"/><path d="M1445.9,322.4 L1447.1,342.4 L1453.4,349.8 L1467.1,353.6 L1479.5,354.8 L1488.3,362.3 L1498.2,359.8 L1502.0,354.8 L1502.3,344.6" fill="none" stroke="#2a5272" stroke-width="1.2"/><path d="M1466.3,296.4 L1496.2,298.0 L1499.5,293.0 L1521.1,298.0 L1537.7,313.0 L1539.4,323.0 L1534.4,334.6 L1536.5,347.1" fill="none" stroke="#2a5272" stroke-width="1.2"/><path d="M1493.7,261.5 L1502.8,276.4 L1519.5,279.7 L1521.1,289.7 L1529.4,298.0 L1546.0,293.0 L1544.4,306.3 L1557.7,319.6 L1561.0,329.6 L1560.0,340.0 L1565.7,357.4" fill="none" stroke="#2a5272" stroke-width="1.2"/><path d="M1514.3,390.0 L1509.0,396.0" fill="none" stroke="#2a5272" stroke-width="1.2"/><path d="M1545.1,396.8 L1548.5,405.4 L1549.4,412.2 L1548.5,419.1 L1552.0,426.0 L1550.3,431.1 L1555.4,436.2 L1560.5,439.7 L1562.2,443.1" fill="none" stroke="#2a5272" stroke-width="1.2"/><path d="M1550.3,431.1 L1562.2,426.0 L1572.5,423.4 L1582.8,419.1 L1589.7,415.7 L1598.2,414.0" fill="none" stroke="#2a5272" stroke-width="1.2"/><path d="M1598.2,414.0 L1603.4,426.0 L1599.9,436.2 L1594.8,446.5 L1589.7,456.8" fill="none" stroke="#2a5272" stroke-width="1.2"/><path d="M1576.8,361.7 L1582.8,367.7 L1586.2,374.6 L1582.8,381.4 L1584.5,390.0 L1582.8,398.5 L1586.2,403.7 L1589.7,412.2 L1589.7,415.7" fill="none" stroke="#2a5272" stroke-width="1.2"/><path d="M1562.2,397.7 L1570.0,402.0 L1578.0,400.0 L1582.8,398.5" fill="none" stroke="#2a5272" stroke-width="1.2"/><path d="M1582.8,381.4 L1593.1,379.7 L1603.4,381.4 L1613.7,383.1 L1617.1,384.8" fill="none" stroke="#2a5272" stroke-width="1.2"/><path d="M1617.1,384.8 L1613.7,398.5 L1617.1,410.5 L1617.1,420.8 L1620.5,427.7" fill="none" stroke="#2a5272" stroke-width="1.2"/><path d="M1598.2,414.0 L1603.4,423.4 L1620.5,427.7 L1627.4,429.4 L1634.2,426.0 L1639.4,415.7" fill="none" stroke="#2a5272" stroke-width="1.2"/><path d="M1639.4,415.7 L1635.9,405.4 L1642.8,398.5 L1647.9,386.5 L1651.4,378.0" fill="none" stroke="#2a5272" stroke-width="1.2"/><path d="M1639.4,415.7 L1639.4,427.7 L1637.6,438.0" fill="none" stroke="#2a5272" stroke-width="1.2"/><path d="M1651.4,378.0 L1647.9,369.4 L1653.1,360.8 L1660.0,355.7" fill="none" stroke="#2a5272" stroke-width="1.2"/><path d="M1617.1,384.8 L1625.6,381.4 L1634.2,383.1 L1646.2,381.4 L1651.4,378.0" fill="none" stroke="#2a5272" stroke-width="1.2"/><path d="M1625.6,381.4 L1629.1,372.8 L1625.6,364.3 L1629.1,355.7 L1629.1,347.1" fill="none" stroke="#2a5272" stroke-width="1.2"/><path d="M1582.8,367.7 L1589.7,360.8 L1599.9,359.1 L1610.2,360.8 L1617.1,355.7 L1625.6,352.3 L1629.1,347.1" fill="none" stroke="#2a5272" stroke-width="1.2"/><path d="M1576.0,354.0 L1582.8,347.1 L1589.7,343.7 L1593.1,335.1 L1592.4,335.5" fill="none" stroke="#2a5272" stroke-width="1.2"/><path d="M1592.4,335.5 L1596.1,349.8 L1601.1,354.8 L1614.8,357.3 L1624.8,364.7 L1629.8,367.2" fill="none" stroke="#2a5272" stroke-width="1.2"/><path d="M1614.8,319.9 L1624.8,329.8 L1629.8,334.8 L1626.0,342.3 L1629.8,346.0 L1627.3,349.8 L1624.8,354.8 L1629.1,355.7" fill="none" stroke="#2a5272" stroke-width="1.2"/><path d="M1629.8,334.8 L1634.8,337.3 L1642.2,337.3 L1647.2,338.6 L1654.7,333.6" fill="none" stroke="#2a5272" stroke-width="1.2"/><path d="M1634.8,337.3 L1644.7,344.8 L1649.7,352.3 L1652.2,359.8 L1649.7,367.2 L1656.0,369.7 L1663.4,371.0 L1667.2,377.2" fill="none" stroke="#2a5272" stroke-width="1.2"/><path d="M1668.0,163.3 L1669.7,171.6 L1678.0,179.9 L1686.3,181.6 L1689.6,188.2 L1692.9,196.5 L1691.3,203.2 L1683.0,213.1 L1676.3,218.1 L1681.3,223.1 L1676.3,229.8 L1671.3,233.1 L1674.7,239.7 L1679.6,244.7 L1681.3,249.7 L1683.0,256.3" fill="none" stroke="#2a5272" stroke-width="1.2"/><path d="M1681.3,223.1 L1686.3,229.8 L1696.3,234.7 L1706.2,239.7 L1712.9,244.7 L1721.2,249.7 L1732.8,253.0 L1736.1,249.7" fill="none" stroke="#2a5272" stroke-width="1.2"/><path d="M1621.5,271.3 L1619.0,280.4" fill="none" stroke="#2a5272" stroke-width="1.2"/><path d="M1601.1,287.5 L1599.9,292.9 L1594.0,302.9 L1593.6,304.9" fill="none" stroke="#2a5272" stroke-width="1.2"/><path d="M1561.0,329.6 L1575.0,330.0 L1585.0,335.0 L1592.4,335.5" fill="none" stroke="#2a5272" stroke-width="1.2"/><path d="M1544.4,306.3 L1560.0,300.0 L1575.0,296.0 L1590.0,292.0 L1599.9,292.9" fill="none" stroke="#2a5272" stroke-width="1.2"/></g><path d="M1619.0,281.3 L1621.5,271.3 L1629.8,269.6 L1638.1,266.3 L1643.1,266.3 L1646.4,271.3 L1653.1,276.3 L1652.2,278.0 L1659.7,286.3 L1653.5,291.2 L1647.2,296.2 L1642.2,303.7 L1634.8,308.7 L1627.9,313.6 L1624.8,318.6 L1619.8,321.1 L1614.8,319.9 L1617.9,308.7 L1614.8,303.7 L1615.5,297.4 L1619.8,293.7 L1621.1,288.7 Z" fill="#2a80b9" stroke="#2a5272" stroke-width="1"/><path d="M1627.0,278.0 L1631.0,275.5 L1635.5,276.5 L1637.0,281.0 L1635.0,286.0 L1630.5,289.0 L1627.5,286.0 Z" fill="#26679d" stroke="#2a5272" stroke-width="1"/><path d="M1637.0,285.0 L1641.0,284.0 L1644.0,288.0 L1643.5,294.0 L1640.0,298.0 L1637.5,293.0 Z" fill="#26679d" stroke="#2a5272" stroke-width="1"/><path d="M1502.3,344.6 L1505.7,342.0 L1508.3,343.7 L1511.7,352.3 L1519.4,354.0 L1524.6,354.8 L1531.4,350.6 L1536.5,347.1 L1539.1,342.0 L1541.7,345.4 L1546.0,346.3 L1548.5,354.0 L1555.4,355.7 L1565.7,357.4 L1572.5,360.0 L1576.8,361.7 L1576.0,366.0 L1572.5,372.8 L1569.1,378.0 L1564.0,377.1 L1560.5,379.7 L1558.8,384.8 L1560.5,391.7 L1562.2,397.7 L1558.8,398.5 L1553.7,395.1 L1551.1,392.5 L1548.5,393.4 L1545.1,396.8 L1541.7,400.3 L1538.3,405.4 L1537.4,410.5 L1534.8,414.0 L1531.4,412.2 L1528.8,406.3 L1524.6,398.5 L1519.4,393.4 L1514.3,390.0 L1513.4,379.7 L1512.6,371.1 L1510.0,360.8 L1504.0,352.3 L1501.9,347.1 Z" fill="#35f5e3"/><path d="M1619.0,280.4 L1621.1,288.7 L1619.8,293.7 L1615.5,297.4 L1614.8,303.7 L1617.9,308.7 L1614.8,319.9 L1612.3,327.4 L1606.1,329.2 L1597.4,332.3 L1592.4,335.5 L1591.8,329.8 L1593.0,317.4 L1593.6,304.9 L1596.1,298.7 L1597.4,293.7 L1601.1,287.5 L1607.4,285.6 L1614.8,283.7 Z" fill="#35f5e3"/><path d="M1652.2,278.0 L1656.4,273.0 L1654.7,265.5 L1659.7,266.3 L1666.3,263.0 L1676.3,261.3 L1683.0,258.0 L1686.3,255.5 L1691.3,259.7 L1692.9,264.7 L1697.9,273.0 L1697.9,281.3 L1689.6,286.3 L1679.6,289.6 L1671.3,294.6 L1666.3,297.1 L1669.7,291.2 L1673.0,282.9 L1668.0,280.4 L1659.7,286.3 Z" fill="#ffe85c"/><path d="M1659.9,436.2 L1662.5,429.4 L1666.8,424.2 L1671.1,423.4 L1672.8,426.0 L1671.1,432.8 L1668.5,441.4 L1665.9,450.0 L1664.7,453.4 L1662.5,448.2 L1660.8,443.1 Z" fill="#e3e3e3"/><path d="M1617,450.5 L1619.6,448.8 L1619,451 Z" fill="#e0e0e0"/><rect x="1222" y="335.7" width="19" height="10.6" fill="#33f5e0"/><rect x="1222" y="346" width="19" height="25.3" fill="#33dcd8"/><rect x="1222" y="371" width="19" height="15.3" fill="#40c0cc"/><rect x="1222" y="386" width="19" height="19.3" fill="#3aa0d8"/><rect x="1222" y="405" width="19" height="19.3" fill="#3698d6"/><rect x="1222" y="424" width="19" height="26.3" fill="#2e88c4"/><rect x="1222" y="450" width="19" height="2.3" fill="#2a78b4"/><rect x="1222" y="452" width="19" height="16.9" fill="#2468a0"/><text x="1231.5" y="325.0" font-size="12" fill="#6aaee0" text-anchor="middle" >多</text><text x="1231.5" y="488.0" font-size="12" fill="#6aaee0" text-anchor="middle" >少</text><path d="M1479,764 L1479.00,674.80 A89.2,89.2 0 0 1 1479.00,853.20 Z" fill="#1ec5e5"/><path d="M1479,764 L1479.00,853.20 A89.2,89.2 0 0 1 1479.00,674.80 Z" fill="#67e0e3"/><path d="M1479.00,621.20 A142.8,142.8 0 0 1 1521.08,627.54 L1510.47,661.94 A106.8,106.8 0 0 0 1479.00,657.20 Z" fill="#37a2da"/><path d="M1521.08,627.54 A142.8,142.8 0 1 1 1479.00,621.20 L1479.00,657.20 A106.8,106.8 0 1 0 1510.47,661.94 Z" fill="#8378ea"/><text x="1431.0" y="769.5" font-size="12" fill="#2a4a6a" text-anchor="middle" >女性(0%)</text><text x="1526.0" y="769.5" font-size="12" fill="#2a4a6a" text-anchor="middle" >男性(0%)</text><polyline points="1500.1,623.5 1504.2,594.2 1517.7,594.2" fill="none" stroke="#37a2da" stroke-width="1"/><polyline points="1521.3,627.5 1526.7,606.3 1540.6,606.3" fill="none" stroke="#ffdb5c" stroke-width="1"/><polyline points="1521.3,627.5 1548,617.8 1562.9,617.8" fill="none" stroke="#ff9f7f" stroke-width="1"/><polyline points="1521.3,627.5 1568.3,629.3 1580.4,629.3" fill="none" stroke="#fb7293" stroke-width="1"/><polyline points="1457.9,904.8 1422,919.6 1406,919.6" fill="none" stroke="#8378ea" stroke-width="1"/><rect x="1521" y="586" width="98" height="21" rx="3" fill="rgba(30,110,160,0.55)"/><text x="1526.4" y="598.5" font-size="11.5" fill="#8ccbf0" text-anchor="start" >13岁以下(4.76%)</text><rect x="1544" y="593" width="76" height="23" rx="3" fill="rgba(30,110,160,0.55)"/><text x="1549.4" y="610.0" font-size="11.5" fill="#8ccbf0" text-anchor="start" >14-20岁(0%)</text><rect x="1566" y="604" width="78" height="23" rx="3" fill="rgba(30,110,160,0.55)"/><text x="1571.7" y="621.5" font-size="11.5" fill="#8ccbf0" text-anchor="start" >20-39岁(0%)</text><rect x="1584" y="616" width="76" height="26" rx="3" fill="rgba(30,110,160,0.55)"/><text x="1588.5" y="633.0" font-size="11.5" fill="#8ccbf0" text-anchor="start" >40-59岁(0%)</text><rect x="1302.5" y="907" width="103.5" height="26" rx="3" fill="rgba(30,110,160,0.55)"/><text x="1307.0" y="923.5" font-size="11.5" fill="#8ccbf0" text-anchor="start" >60岁以上(95.24%)</text><rect x="1809.5" y="739.8" width="14" height="14" rx="3" fill="#1ec5e5"/><text x="1828.5" y="751.1" font-size="11.5" fill="#7ab6e6" text-anchor="start" >男性</text><rect x="1809.5" y="767.3" width="14" height="14" rx="3" fill="#67e0e3"/><text x="1828.5" y="778.6" font-size="11.5" fill="#7ab6e6" text-anchor="start" >女性</text><rect x="1809.5" y="794.9" width="14" height="14" rx="3" fill="#37a2da"/><text x="1828.5" y="806.2" font-size="11.5" fill="#7ab6e6" text-anchor="start" >13岁以下</text><rect x="1809.5" y="822.4" width="14" height="14" rx="3" fill="#ffdb5c"/><text x="1828.5" y="833.7" font-size="11.5" fill="#7ab6e6" text-anchor="start" >14-20岁</text><rect x="1809.5" y="850.0" width="14" height="14" rx="3" fill="#ff9f7f"/><text x="1828.5" y="861.3" font-size="11.5" fill="#7ab6e6" text-anchor="start" >20-39岁</text><rect x="1809.5" y="877.5" width="14" height="14" rx="3" fill="#fb7293"/><text x="1828.5" y="888.8" font-size="11.5" fill="#7ab6e6" text-anchor="start" >40-59岁</text><rect x="1809.5" y="905.1" width="14" height="14" rx="3" fill="#8378ea"/><text x="1828.5" y="916.4" font-size="11.5" fill="#7ab6e6" text-anchor="start" >60岁以上</text></svg><div class="tip" style="left:624px;top:409px;width:70px;height:29px;line-height:19px;padding:5px 5px"><span class="cj">销售：</span>0<span class="cj">张</span></div><div class="tip" style="left:625px;top:807px;width:92px;height:70px;line-height:20px;padding:5px 5px">04-20<br><span style="display:inline-block;width:9px;height:9px;border-radius:50%;background:#1f93e0;margin-right:5px;vertical-align:0"></span><span class="cj">闸机检票</span>: 0<br><span style="display:inline-block;width:9px;height:9px;border-radius:50%;background:#1f8a6c;margin-right:5px;vertical-align:0"></span><span class="cj">移动检票</span>: 0</div><div class="tip" style="left:1597px;top:652px;width:106px;height:49px;line-height:20px;padding:5px 4px"><span class="cj">游客年龄</span><br>20-39<span class="cj">岁</span>: 0 (0%)</div><div class="tip" style="left:1703px;top:289px;width:69px;height:29px;line-height:19px;padding:5px 5px"><span class="cj">辽宁：</span>0%</div></body></html>
